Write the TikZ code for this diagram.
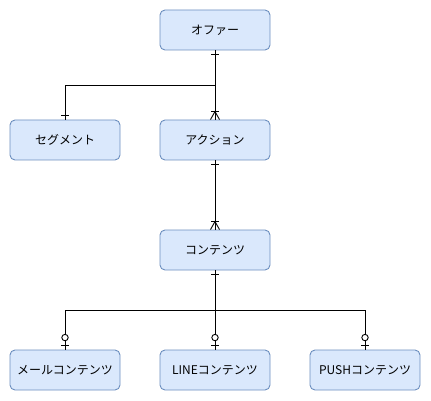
\documentclass[tikz,border=0pt]{standalone}
\usepackage{fontspec}
\setmainfont{Noto Sans CJK JP}
\usetikzlibrary{calc}
\begin{document}
\begin{tikzpicture}[x=1pt,y=-1pt,
  entity/.style={draw=ebord,fill=efill,line width=0.9pt,rounded corners=5pt,minimum width=110pt,minimum height=40pt,inner sep=0pt,font=\fontsize{12}{14}\selectfont},
  rel/.style={draw=black,line width=0.9pt},
  mk/.style={draw=black,line width=0.9pt}]
\definecolor{efill}{HTML}{DAE8FC}
\definecolor{ebord}{HTML}{6C8EBF}
\useasboundingbox (0,0) rectangle (431,401);
\node[entity] (offer) at (215,30) {オファー};
\node[entity] (seg) at (65,140) {セグメント};
\node[entity] (act) at (215,140) {アクション};
\node[entity] (cont) at (215,250) {コンテンツ};
\node[entity] (mail) at (65,370) {メールコンテンツ};
\node[entity] (line) at (215,370) {LINEコンテンツ};
\node[entity] (push) at (365,370) {PUSHコンテンツ};
% connectors
\coordinate (j1) at (215,85);
\coordinate (j2) at (215,310);
\draw[rel] (offer.south) -- (act.north);
\draw[rel] (j1) -| (seg.north);
\draw[rel] (act.south) -- (cont.north);
\draw[rel] (cont.south) -- (line.north);
\draw[rel] (j2) -| (mail.north);
\draw[rel] (j2) -| (push.north);
% markers: bars
\foreach \n/\d in {offer.south/4, act.south/4, cont.south/4}{
  \draw[mk] ($(\n)+(-4,\d)$) -- ($(\n)+(4,\d)$);
}
\draw[mk] ($(seg.north)+(-4,-4)$) -- ($(seg.north)+(4,-4)$);
% crow's feet
\foreach \n in {act.north, cont.north}{
  \draw[mk] ($(\n)+(-4,-8)$) -- ($(\n)+(4,-8)$);
  \draw[mk] ($(\n)+(-4.5,0)$) -- ($(\n)+(0,-8)$) -- ($(\n)+(4.5,0)$);
}
% zero-or-one
\foreach \n in {mail.north, line.north, push.north}{
  \draw[mk] ($(\n)+(-4,-4)$) -- ($(\n)+(4,-4)$);
  \draw[mk,fill=white] ($(\n)+(0,-12)$) circle (3.2);
}
\end{tikzpicture}
\end{document}
